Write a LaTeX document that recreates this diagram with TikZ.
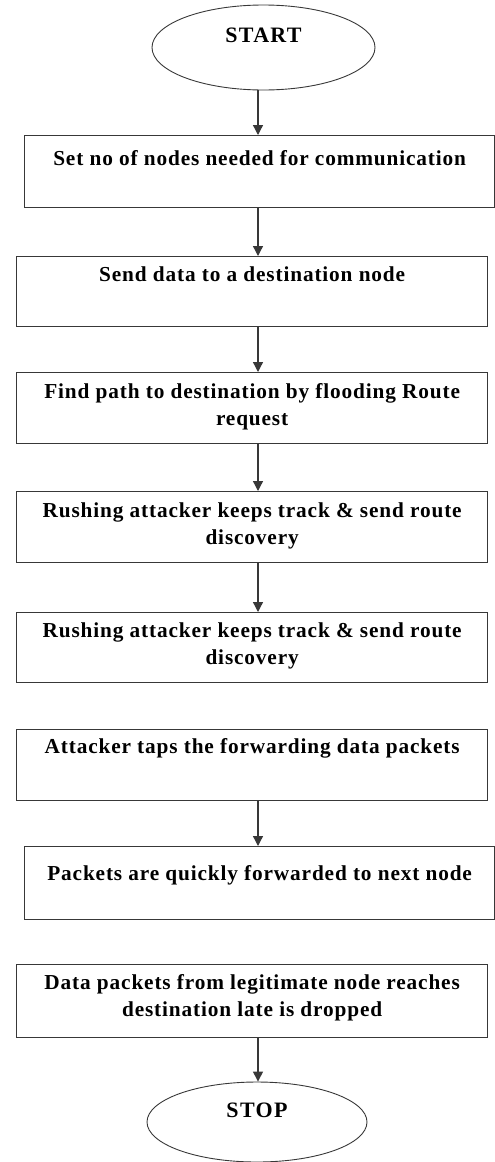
\documentclass[tikz,border=0pt]{standalone}
\usepackage{fontspec}
\setmainfont{Liberation Serif}
\newfontfamily\boxfont[LetterSpace=4]{Liberation Serif}
\newfontfamily\termfont[LetterSpace=6]{Liberation Serif}
\usetikzlibrary{shapes.geometric,arrows.meta}
\definecolor{linegray}{gray}{0.22}
% two-line labels: baseline of the box sits on the first line
\newcommand{\twolines}[2]{\begin{tabular}[t]{@{}c@{}}#1\\#2\end{tabular}}
\tikzset{
  flowbox/.style={draw=linegray, line width=1.3pt, rectangle, inner xsep=0pt, inner ysep=0pt,
    anchor=north west, font=\boxfont\bfseries\fontsize{21.3}{27}\selectfont},
  terminal/.style={draw=linegray, line width=0.9pt, ellipse, inner sep=0pt,
    font=\termfont\bfseries\fontsize{22}{24}\selectfont},
  arr/.style={draw=linegray, line width=1.3pt, -{Triangle[length=10pt,width=10pt]}}
}
\begin{document}
\begin{tikzpicture}[x=1pt,y=-1pt]
\useasboundingbox (0,0) rectangle (495,1162);
\coordinate (axis) at (258,0);

\node[terminal, minimum width=223pt, minimum height=85pt, text height=15pt, text depth=26pt] (start) at (263.5,47.5) {START};

\node[flowbox, minimum width=470pt, text height=30pt, text depth=42pt] (b1) at (24,135)
  {Set no of nodes needed for communication};
\node[flowbox, minimum width=471pt, text height=25pt, text depth=45pt] (b2) at (16,256)
  {Send data to a destination node};
\node[flowbox, minimum width=471pt, text height=26pt, text depth=45pt] (b3) at (16,372)
  {\twolines{Find path to destination by flooding Route}{request}};
\node[flowbox, minimum width=471pt, text height=26pt, text depth=45pt] (b4) at (16,491)
  {\twolines{Rushing attacker keeps track \& send route}{discovery}};
\node[flowbox, minimum width=471pt, text height=25pt, text depth=45pt] (b5) at (16,612)
  {\twolines{Rushing attacker keeps track \& send route}{discovery}};
\node[flowbox, minimum width=471pt, text height=24pt, text depth=47pt] (b6) at (16,729)
  {Attacker taps the forwarding data packets};
\node[flowbox, minimum width=470pt, text height=34pt, text depth=39pt] (b7) at (24,846)
  {Packets are quickly forwarded to next node};
\node[flowbox, minimum width=471pt, text height=25pt, text depth=48pt] (b8) at (16,964)
  {\twolines{Data packets from legitimate node reaches}{destination late is dropped}};

\node[terminal, minimum width=220pt, minimum height=80pt, text height=15pt, text depth=25pt] (stop) at (257,1122) {STOP};

\draw[arr] (start.south -| axis) -- (b1.north -| axis);
\draw[arr] (b1.south -| axis) -- (b2.north -| axis);
\draw[arr] (b2.south -| axis) -- (b3.north -| axis);
\draw[arr] (b3.south -| axis) -- (b4.north -| axis);
\draw[arr] (b4.south -| axis) -- (b5.north -| axis);
\draw[arr] (b6.south -| axis) -- (b7.north -| axis);
\draw[arr] (b8.south -| axis) -- (stop.north -| axis);
\end{tikzpicture}
\end{document}
